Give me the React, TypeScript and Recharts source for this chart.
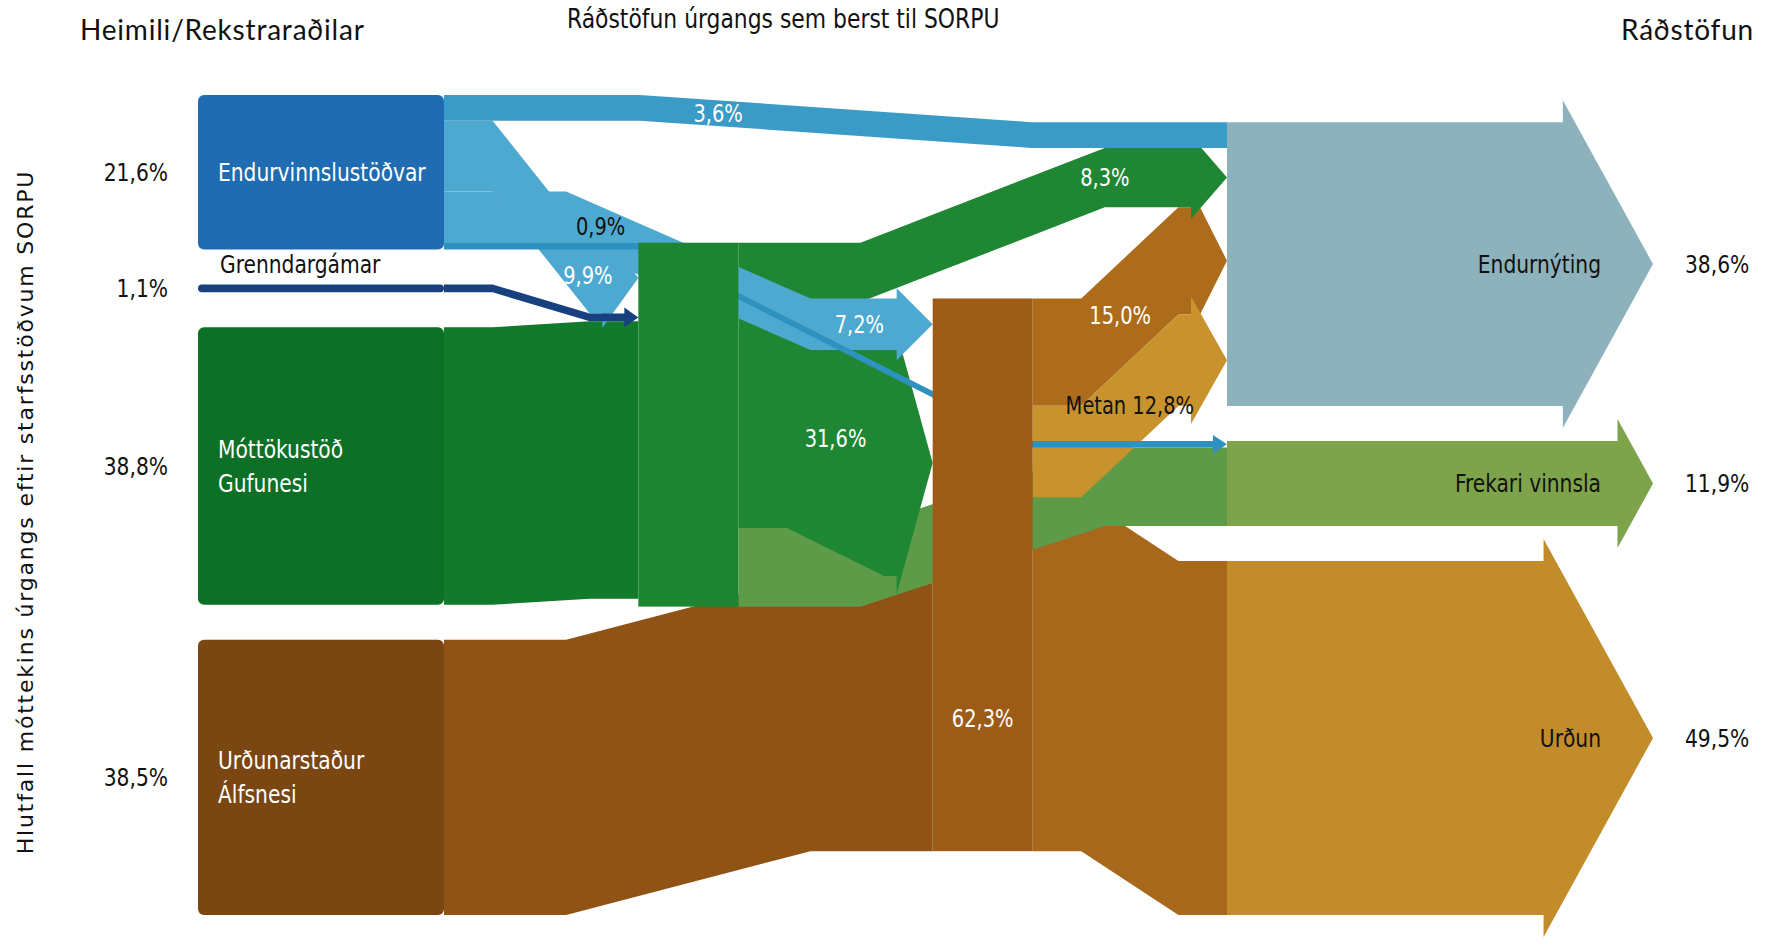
import React from 'react';
import { Sankey } from 'recharts';

// stations (left), processing (middle), final disposal (right)
const nodeNames = [
  'Endurvinnslustöðvar',
  'Grenndargámar',
  'Móttökustöð Gufunesi',
  'Urðunarstaður Álfsnesi',
  'Gufunesi',
  'Álfsnesi',
  'Endurnýting',
  'Frekari vinnsla',
  'Urðun',
];
const nodeTitles = [
  ['Endurvinnslustöðvar'],
  ['Grenndargámar'],
  ['Móttökustöð', 'Gufunesi'],
  ['Urðunarstaður', 'Álfsnesi'],
  [],
  ['62,3%'],
  ['Endurnýting'],
  ['Frekari vinnsla'],
  ['Urðun'],
];
const stationShares = ['21,6%', '1,1%', '38,8%', '38,5%'];
const outcomeShares = ['38,6%', '11,9%', '49,5%'];

const linkSources = [2, 3, 5, 4, 4, 5, 5, 4, 0, 0, 0, 0, 1];
const linkTargets = [4, 5, 8, 7, 5, 6, 6, 6, 6, 5, 4, 7, 4];
const linkValues = [38.8, 38.5, 49.5, 11.0, 31.6, 15.0, 12.8, 8.3, 3.6, 7.2, 9.9, 0.9, 1.1];
const linkLabels = ['', '', '', '', '31,6%', '15,0%', 'Metan 12,8%', '8,3%', '3,6%', '7,2%', '9,9%', '0,9%', ''];

const COND = "'DejaVu Sans Condensed', 'Liberation Sans Narrow', sans-serif";
const CAL = "Lato, 'Open Sans', sans-serif";
const STATION_BOX = 246; // drawn width of the station boxes on the left

const NODE_COLORS = ['#1f6cb2', '#17407f', '#0d7027', '#7a4612', '#1d8532', '#9c5c17', '#8db2bc', '#7da44b', '#c28c2a'];
const LINK_STYLE: any[] = [
  { fill: '#117a2b', arrow: false },
  { fill: '#8f5415', arrow: false },
  { fill: '#a8681b', arrow: false },
  { fill: '#5e9b48', arrow: false },
  { fill: '#1f8733', arrow: true, t: 0.5 },
  { fill: '#ad6c1c', arrow: true, t: 0.45 },
  { fill: '#c8922d', arrow: true, t: 0.5, dark: true },
  { fill: '#1f8733', arrow: true, t: 0.75 },
  { fill: '#3a9bc6', arrow: false, t: 0.35 },
  { fill: '#4ea9d0', arrow: true, t: 0.85 },
  { fill: '#4ea9d0', arrow: true, t: 0.74 },
  { fill: '#2d92bf', arrow: true, t: 0.2, dark: true, above: true },
  { fill: '#17407f', arrow: true },
];

const data = {
  nodes: nodeNames.map((name) => ({ name })),
  links: linkSources.map((s, i) => ({ source: s, target: linkTargets[i], value: linkValues[i] })),
};

// link label spots, filled while links render, drawn on top with the last node
const labelSpots: Record<number, { x: number; y: number }> = {};

function Lbl({ x, y, anchor = 'start', color = '#111', size = 25, children }: any) {
  return (
    <text
      transform={`translate(${x},${y}) scale(0.9,1)`}
      dy="0.35em"
      textAnchor={anchor}
      fontFamily={COND}
      fontSize={size}
      fill={color}
    >
      {children}
    </text>
  );
}

function FlowLink(props: any) {
  const { sourceX, sourceY, targetX, targetY, sourceControlX, targetControlX, linkWidth, index } = props;
  const st = LINK_STYLE[index];
  const h = linkWidth / 2;
  const head = st.arrow ? Math.max(14, Math.min(36, linkWidth * 0.7)) : 0;
  const ext = st.arrow ? Math.max(6, Math.min(18, linkWidth * 0.2)) : 0;
  const xa = sourceControlX;
  const xe = targetX - head;
  const xb = Math.min(targetControlX, xe);
  let d = `M${sourceX},${sourceY - h} L${xa},${sourceY - h} L${xb},${targetY - h} L${xe},${targetY - h}`;
  if (st.arrow) {
    d += ` L${xe},${targetY - h - ext} L${targetX},${targetY} L${xe},${targetY + h + ext} L${xe},${targetY + h}`;
  } else {
    d += ` L${targetX},${targetY - h} L${targetX},${targetY + h}`;
  }
  d += ` L${xb},${targetY + h} L${xa},${sourceY + h} L${sourceX},${sourceY + h} Z`;

  if (linkLabels[index]) {
    const lx = sourceX + (targetX - sourceX) * st.t;
    let ly;
    if (lx <= xa) ly = sourceY;
    else if (lx >= xb) ly = targetY;
    else ly = sourceY + ((targetY - sourceY) * (lx - xa)) / (xb - xa);
    if (st.above) ly -= 20;
    labelSpots[index] = { x: lx, y: ly };
  }
  return <path d={d} fill={st.fill} stroke="none" />;
}

function LinkLabels() {
  return (
    <g>
      {linkLabels.map((label, i) =>
        label && labelSpots[i] ? (
          <Lbl key={i} x={labelSpots[i].x} y={labelSpots[i].y} anchor="middle" size={24} color={LINK_STYLE[i].dark ? '#111' : '#fff'}>
            {label}
          </Lbl>
        ) : null,
      )}
    </g>
  );
}

function StationNode(props: any) {
  const { x, y, width, height, index } = props;
  const color = NODE_COLORS[index];
  const cy = y + height / 2;
  const titles = nodeTitles[index];

  if (index <= 3) {
    const isThin = index === 1;
    const bx = x + width - STATION_BOX;
    return (
      <g>
        <rect x={bx} y={y} width={STATION_BOX} height={height} rx={isThin ? height / 2 : 6} fill={color} />
        <Lbl x={bx - 30} y={cy} anchor="end">
          {stationShares[index]}
        </Lbl>
        {isThin ? (
          <Lbl x={bx + 22} y={y - 20}>
            {titles[0]}
          </Lbl>
        ) : (
          titles.map((t, i) => (
            <Lbl key={t} x={bx + 20} y={cy + (i - (titles.length - 1) / 2) * 34} color="#fff">
              {t}
            </Lbl>
          ))
        )}
      </g>
    );
  }

  if (index <= 5) {
    return (
      <g>
        <rect x={x} y={y} width={width} height={height} fill={color} />
        {titles.map((t) => (
          <Lbl key={t} x={x + width / 2} y={y + height * 0.76} anchor="middle" size={24} color="#fff">
            {t}
          </Lbl>
        ))}
      </g>
    );
  }

  const ext = 22;
  const tipX = x + 426;
  const headLen = 0.55 * (height / 2 + ext);
  const hx = tipX - headLen;
  const pts = [
    [x, y],
    [hx, y],
    [hx, y - ext],
    [tipX, cy],
    [hx, y + height + ext],
    [hx, y + height],
    [x, y + height],
  ]
    .map((p) => p.join(','))
    .join(' ');
  return (
    <g>
      <polygon points={pts} fill={color} />
      <Lbl x={tipX - 52} y={cy} anchor="end">
        {titles[0]}
      </Lbl>
      <Lbl x={tipX + 32} y={cy}>
        {outcomeShares[index - 6]}
      </Lbl>
      {index === nodeNames.length - 1 && <LinkLabels />}
    </g>
  );
}

export default function App() {
  return (
    <div style={{ position: 'absolute', left: 0, top: 0, width: 1773, height: 946, background: '#fff', overflow: 'hidden' }}>
      <Sankey
        width={1773}
        height={946}
        data={data}
        node={StationNode}
        link={FlowLink}
        nodeWidth={100}
        nodePadding={35}
        linkCurvature={0.25}
        iterations={32}
        sort={false}
        margin={{ top: 95, right: 446, bottom: 31, left: 344 }}
      />
      <div style={{ position: 'absolute', left: 80, top: 12, fontFamily: CAL, fontSize: 28, letterSpacing: 0.8, color: '#111' }}>
        Heimili/Rekstraraðilar
      </div>
      <div
        style={{
          position: 'absolute',
          left: 567,
          top: 4,
          fontFamily: COND,
          fontSize: 26,
          color: '#111',
          transform: 'scaleX(0.935)',
          transformOrigin: 'left center',
          whiteSpace: 'nowrap',
        }}
      >
        Ráðstöfun úrgangs sem berst til SORPU
      </div>
      <div style={{ position: 'absolute', left: 1621, top: 12, fontFamily: CAL, fontSize: 28, letterSpacing: 0.8, color: '#111' }}>
        Ráðstöfun
      </div>
      <div
        style={{
          position: 'absolute',
          left: 25,
          top: 512,
          transform: 'translate(-50%, -50%) rotate(-90deg)',
          whiteSpace: 'nowrap',
          fontFamily: "'DejaVu Sans', sans-serif",
          fontSize: 22,
          letterSpacing: 1.8,
          color: '#111',
        }}
      >
        Hlutfall móttekins úrgangs eftir starfsstöðvum SORPU
      </div>
    </div>
  );
}
